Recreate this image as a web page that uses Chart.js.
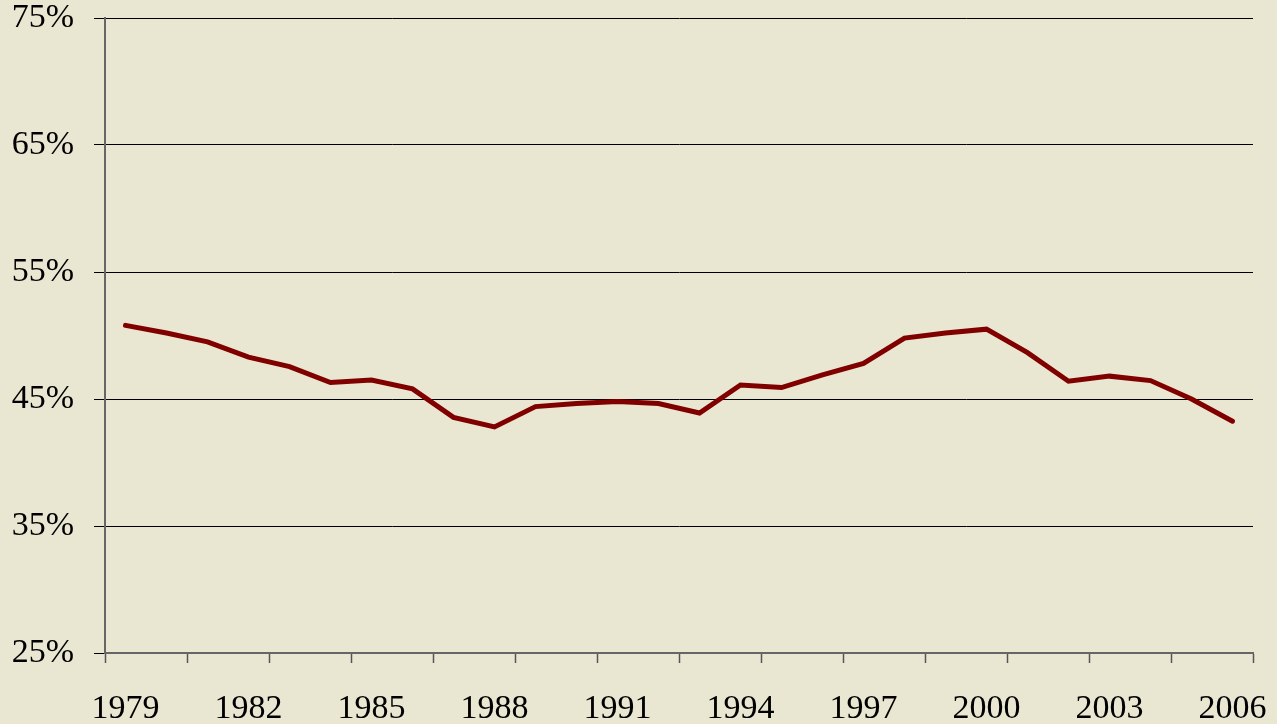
<!DOCTYPE html>
<html>
<head>
<meta charset="utf-8">
<script src="https://cdn.jsdelivr.net/npm/chart.js@4/dist/chart.umd.min.js"></script>
<style>
  html, body { margin: 0; padding: 0; background: #E9E6D1; }
  #wrap { width: 1277px; height: 724px; position: relative; }
</style>
</head>
<body>
<div id="wrap"><canvas id="c" width="1277" height="724"></canvas></div>
<script>
const years = ['1979','1980','1981','1982','1983','1984','1985','1986','1987','1988','1989','1990','1991','1992','1993','1994','1995','1996','1997','1998','1999','2000','2001','2002','2003','2004','2005','2006'];
const shareValues = [50.8, 50.2, 49.5, 48.3, 47.55, 46.3, 46.5, 45.8, 43.55, 42.8, 44.4, 44.65, 44.8, 44.65, 43.9, 46.1, 45.9, 46.9, 47.8, 49.8, 50.2, 50.5, 48.65, 46.4, 46.8, 46.45, 45.0, 43.25];
const yTickMin = 25, yTickMax = 75, yTickStep = 10;
const labelEvery = 3;

const FONT = { family: "'Liberation Serif', 'DejaVu Serif', serif", size: 34 };

new Chart(document.getElementById('c'), {
  type: 'line',
  data: {
    labels: years,
    datasets: [{
      data: shareValues,
      borderColor: '#800000',
      borderWidth: 5,
      pointRadius: 0,
      tension: 0,
      borderCapStyle: 'round',
      borderJoinStyle: 'miter'
    }]
  },
  options: {
    responsive: false,
    animation: false,
    devicePixelRatio: 1,
    layout: { padding: { top: 18, right: 24, left: 0, bottom: 0 } },
    plugins: { legend: { display: false }, tooltip: { enabled: false } },
    scales: {
      x: {
        offset: true,
        afterFit: s => { s.height = 71; s.paddingLeft = 0; s.paddingRight = 0; },
        grid: {
          offset: true,
          drawOnChartArea: false,
          drawTicks: true,
          tickLength: 10,
          tickWidth: 1.5,
          tickColor: ctx => (ctx.index === undefined || ctx.index % 2 === 0) ? '#555' : 'rgba(0,0,0,0)'
        },
        border: { display: true, color: '#666', width: 2 },
        ticks: {
          autoSkip: false,
          maxRotation: 0,
          minRotation: 0,
          padding: 26,
          color: '#000',
          font: FONT,
          callback: (v, i) => (i % labelEvery === 0 ? years[i] : '')
        }
      },
      y: {
        min: yTickMin,
        max: yTickMax,
        afterFit: s => { s.width = 105; s.paddingTop = 0; s.paddingBottom = 0; },
        grid: {
          color: '#000',
          lineWidth: 1,
          drawTicks: true,
          tickLength: 11,
          tickColor: '#000'
        },
        border: { display: true, color: '#666', width: 2 },
        ticks: {
          stepSize: yTickStep,
          padding: 20,
          color: '#000',
          font: FONT,
          callback: v => v + '%'
        }
      }
    }
  }
});
</script>
</body>
</html>
